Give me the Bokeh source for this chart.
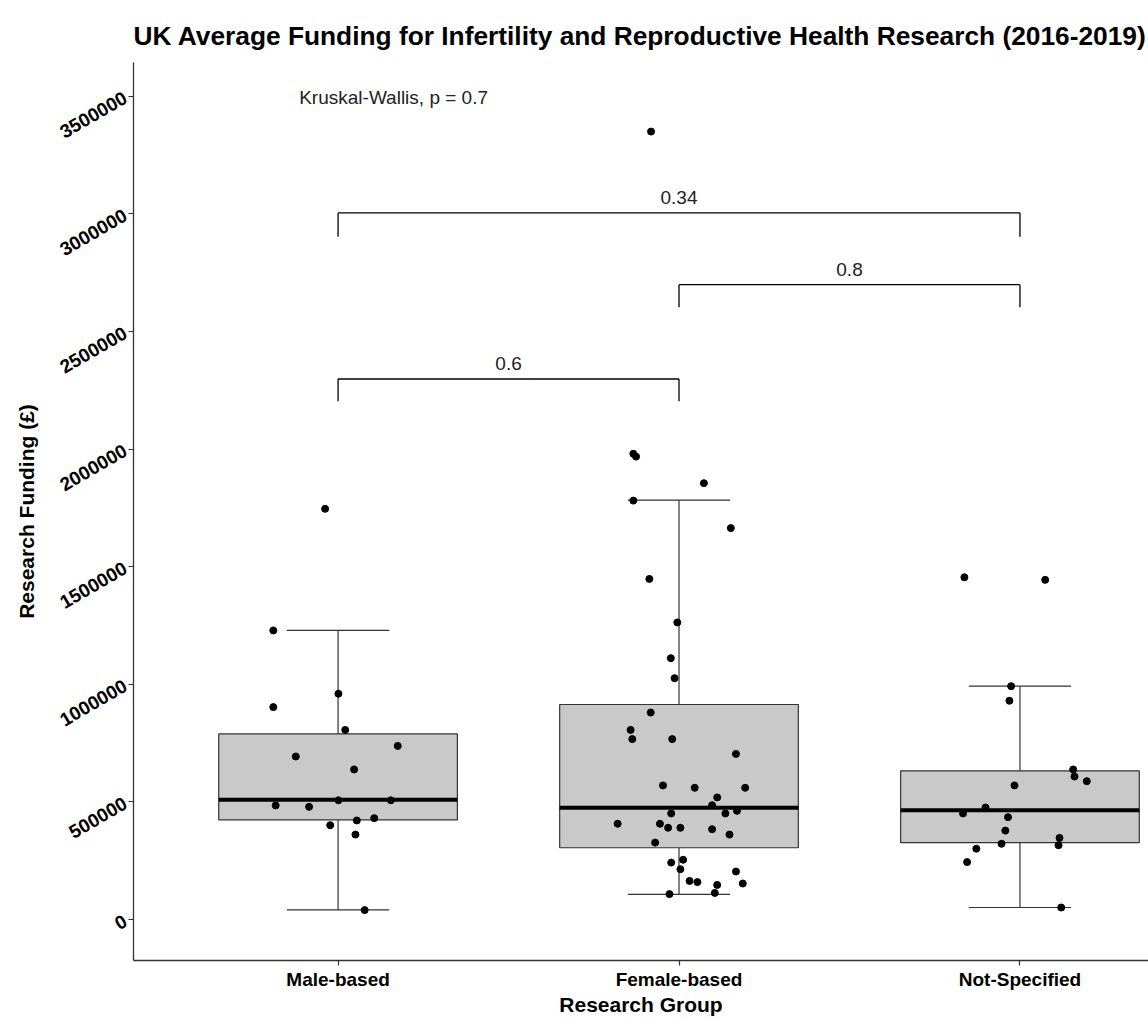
import math
import numpy as np
from bokeh.plotting import figure
from bokeh.models import Range1d, FixedTicker, Label, LinearAxis
from bokeh.embed import file_html
from bokeh.resources import INLINE

# ---------------- data ----------------
categories = ["Male-based", "Female-based", "Not-Specified"]

# box statistics
box_lower = [41000, 107000, 51000]
box_q1 = [424000, 305000, 327000]
box_median = [509000, 475000, 465000]
box_q3 = [789000, 914000, 632000]
box_upper = [1229000, 1783000, 992000]

# individual (jittered) observations: value and horizontal jitter (category units)
male_values = [903000, 960000, 806000, 738000, 693000, 638000, 485000, 479000, 507000,
               507000, 401000, 421000, 431000, 361000, 40000, 1229000, 1746000]
male_jitter = [-0.190, 0.001, 0.021, 0.175, -0.124, 0.047, -0.183, -0.085, 0.001,
               0.155, -0.023, 0.055, 0.106, 0.051, 0.078, -0.190, -0.038]

female_values = [880000, 806000, 767000, 767000, 704000, 570000, 560000, 560000, 519000,
                 486000, 451000, 451000, 462000, 407000, 407000, 390000, 390000, 384000,
                 361000, 327000, 242000, 254000, 214000, 204000, 164000, 159000, 147000,
                 153000, 108000, 113000, 1980000, 1968000, 1855000, 1781000, 1664000,
                 1448000, 1263000, 1111000, 1026000, 3350000]
female_jitter = [-0.083, -0.142, -0.137, -0.020, 0.167, -0.047, 0.046, 0.194, 0.112,
                 0.097, -0.023, 0.136, 0.170, -0.180, -0.056, -0.032, 0.004, 0.097,
                 0.148, -0.070, -0.023, 0.012, 0.004, 0.167, 0.031, 0.054, 0.112,
                 0.187, -0.028, 0.105, -0.134, -0.126, 0.073, -0.134, 0.152,
                 -0.087, -0.005, -0.024, -0.013, -0.082]

notspec_values = [1455000, 1444000, 992000, 930000, 638000, 608000, 588000, 570000, 476000,
                  451000, 435000, 378000, 322000, 347000, 316000, 301000, 244000, 51000]
notspec_jitter = [-0.163, 0.074, -0.026, -0.031, 0.156, 0.160, 0.196, -0.016, -0.101,
                  -0.167, -0.035, -0.043, -0.054, 0.116, 0.113, -0.128, -0.155, 0.121]

# pairwise comparisons (Wilcoxon p-values)
bracket_from = [1, 2, 1]
bracket_to = [3, 3, 2]
bracket_y = [3004000, 2699000, 2298000]
bracket_tip = [2903000, 2603000, 2203000]
bracket_labels = ["0.34", "0.8", "0.6"]

kruskal_text = "Kruskal-Wallis, p = 0.7"
kruskal_x = 0.886
kruskal_y = 3493000

y_ticks = [0, 500000, 1000000, 1500000, 2000000, 2500000, 3000000, 3500000]

# ---------------- figure ----------------
FONT = "Liberation Sans"
DARK = "#333333"

p = figure(width=1148, height=1018,
           x_range=Range1d(0.4, 3.377), y_range=Range1d(-174300, 3643600),
           output_backend="svg", toolbar_location=None,
           min_border_left=133, min_border_right=0, min_border_top=62, min_border_bottom=58)

p.title.text = "UK Average Funding for Infertility and Reproductive Health Research (2016-2019)"
p.title.text_font = FONT
p.title.text_font_size = "26.3px"
p.title.text_font_style = "bold"
p.title.text_color = "black"
p.title.align = "left"
p.title.offset = 0
p.title.standoff = 23

p.outline_line_color = None
p.xgrid.grid_line_color = None
p.ygrid.grid_line_color = None
p.background_fill_color = "white"
p.border_fill_color = "white"

idx = np.arange(1, len(categories) + 1, dtype=float)
half_box = 0.35
half_cap = 0.15

# whiskers
p.segment(x0=idx, y0=box_q3, x1=idx, y1=box_upper, line_color=DARK, line_width=1.2)
p.segment(x0=idx, y0=box_lower, x1=idx, y1=box_q1, line_color=DARK, line_width=1.2)
p.segment(x0=idx - half_cap, y0=box_upper, x1=idx + half_cap, y1=box_upper, line_color=DARK, line_width=1.2)
p.segment(x0=idx - half_cap, y0=box_lower, x1=idx + half_cap, y1=box_lower, line_color=DARK, line_width=1.2)

# boxes
p.quad(left=idx - half_box, right=idx + half_box, bottom=box_q1, top=box_q3,
       fill_color="#C9C9C9", line_color=DARK, line_width=1.2)
p.segment(x0=idx - half_box, y0=box_median, x1=idx + half_box, y1=box_median,
          line_color="black", line_width=4)

# points
groups = [(male_values, male_jitter), (female_values, female_jitter), (notspec_values, notspec_jitter)]
for i, (vals, jit) in enumerate(groups):
    xs = (i + 1) + np.array(jit)
    p.scatter(x=xs, y=vals, size=7, color="black")

# brackets
bf = np.array(bracket_from, dtype=float)
bt = np.array(bracket_to, dtype=float)
p.segment(x0=bf, y0=bracket_y, x1=bt, y1=bracket_y, line_color="black", line_width=1.3)
p.segment(x0=bf, y0=bracket_tip, x1=bf, y1=bracket_y, line_color="black", line_width=1.3)
p.segment(x0=bt, y0=bracket_tip, x1=bt, y1=bracket_y, line_color="black", line_width=1.3)
for a, b, yv, lab in zip(bracket_from, bracket_to, bracket_y, bracket_labels):
    p.add_layout(Label(x=(a + b) / 2, y=yv, text=lab, text_align="center",
                       text_baseline="bottom", y_offset=9,
                       text_font=FONT, text_font_size="19px", text_color="#222222"))

p.add_layout(Label(x=kruskal_x, y=kruskal_y, text=kruskal_text, text_align="left",
                   text_baseline="alphabetic", text_font=FONT, text_font_size="19px",
                   text_color="#222222"))

# axes
p.xaxis.ticker = FixedTicker(ticks=list(idx))
p.xaxis.major_label_overrides = {float(i + 1): c for i, c in enumerate(categories)}
p.yaxis.ticker = FixedTicker(ticks=y_ticks)
p.yaxis.major_label_overrides = {t: str(t) for t in y_ticks}
p.yaxis.major_label_orientation = math.radians(30)

for ax in (p.xaxis[0], p.yaxis[0]):
    ax.axis_line_color = DARK
    ax.axis_line_width = 1.3
    ax.major_tick_line_color = DARK
    ax.major_tick_line_width = 1.2
    ax.major_tick_in = 0
    ax.major_tick_out = 5
    ax.minor_tick_line_color = None
    ax.major_label_text_font = FONT
    ax.major_label_text_font_style = "bold"
    ax.major_label_text_font_size = "19px"
    ax.major_label_text_color = "black"
    ax.axis_label_text_font = FONT
    ax.axis_label_text_font_style = "bold"
    ax.axis_label_text_font_size = "21px"
    ax.axis_label_text_color = "black"

p.xaxis.axis_label = "Research Group"
p.xaxis.major_label_standoff = 3
p.xaxis.axis_label_standoff = 0
p.yaxis.major_label_standoff = 3

# y title on its own bare axis, outside the tick-label axis, to leave the gap of the original
ytitle_axis = LinearAxis(axis_label="Research Funding (£)", ticker=FixedTicker(ticks=[]),
                         axis_line_color=None, major_tick_line_color=None,
                         minor_tick_line_color=None, major_tick_in=0, major_tick_out=0,
                         major_label_text_font_size="0px", axis_label_standoff=14,
                         axis_label_text_font=FONT, axis_label_text_font_style="bold",
                         axis_label_text_font_size="21px", axis_label_text_color="black")
p.add_layout(ytitle_axis, "left")

open("out.html", "w").write(file_html(p, INLINE))
